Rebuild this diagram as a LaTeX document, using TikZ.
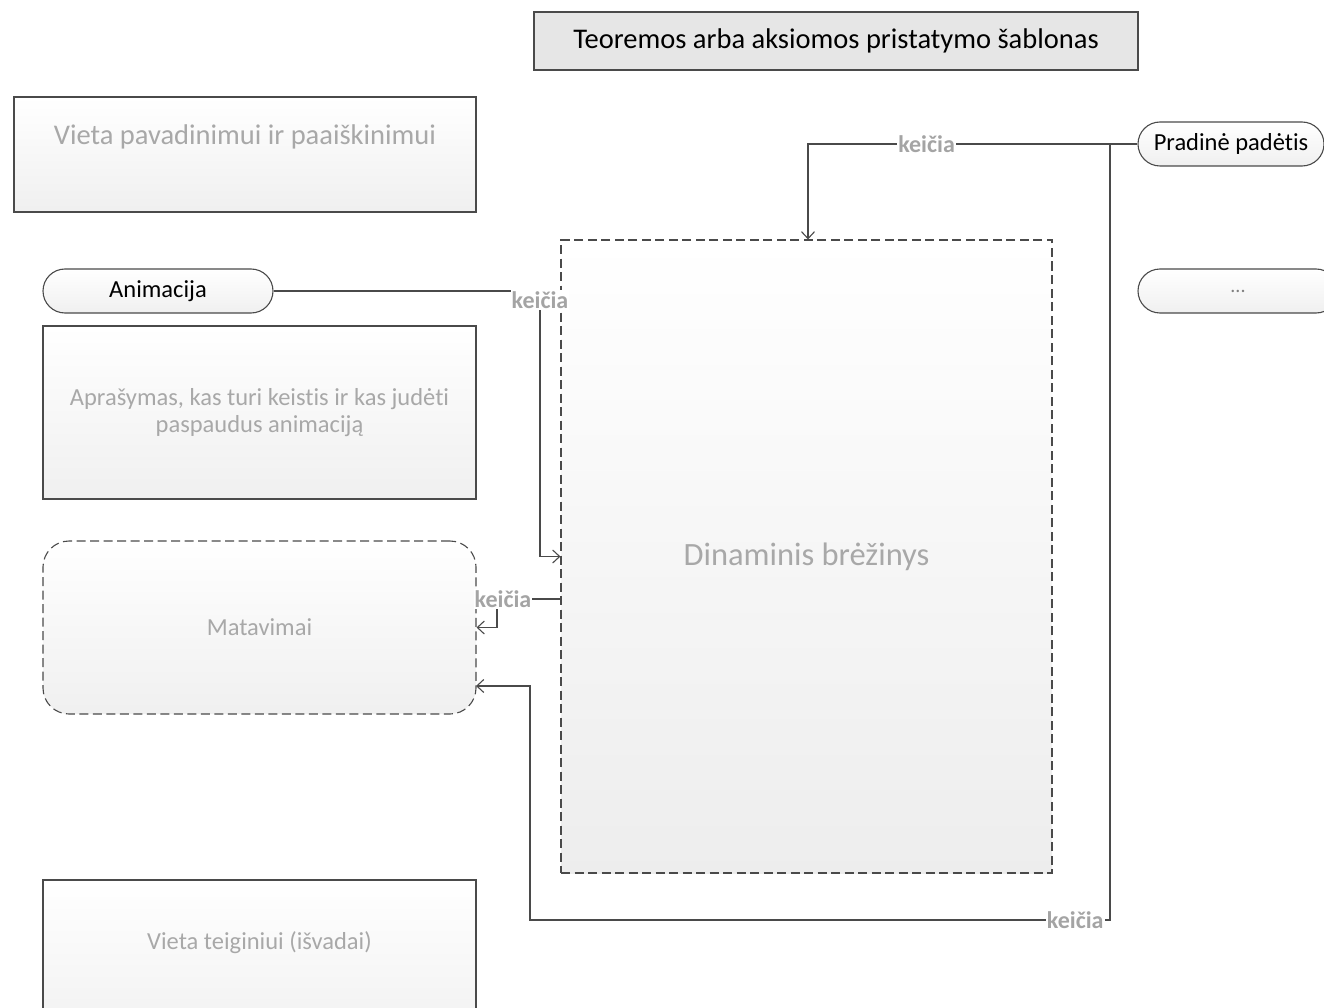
\documentclass[tikz,border=0pt]{standalone}
\usepackage{fontspec}
\setmainfont{Carlito}[Ligatures=NoCommon]
\usetikzlibrary{arrows.meta}
\definecolor{edge}{HTML}{4A4A4A}
\definecolor{ltext}{HTML}{A8A8A8}
\definecolor{ktext}{HTML}{A4A4A4}
\definecolor{titlefill}{HTML}{E6E6E6}
\tikzset{
  box/.style={draw=edge, line width=1.1pt, top color=white, bottom color=gray!12, text=ltext, inner sep=0pt},
  dbox/.style={box, dash pattern=on 9pt off 4.5pt},
  pill/.style={draw=edge, line width=1.1pt, top color=white, bottom color=gray!12, rounded corners=22pt, text=black, font=\fontsize{24.5}{28}\selectfont, inner sep=0pt},
  conn/.style={draw=edge, line width=1.1pt, -{Straight Barb[length=7pt,width=13pt,line width=1.1pt]}},
  lbl/.style={fill=white, text=ktext, font=\bfseries\fontsize{24}{27}\selectfont, inner sep=1pt},
}
\begin{document}
\begin{tikzpicture}[x=1pt,y=-1pt]
\useasboundingbox (0,0) rectangle (1324,1008);
\clip (0,0) rectangle (1324,1008);
% title
\node[draw=edge, line width=1.1pt, fill=titlefill, minimum width=604pt, minimum height=58pt, font=\fontsize{28.5}{32}\selectfont, inner sep=0pt] (title) at (836,41) {Teoremos arba aksiomos pristatymo šablonas};
% left boxes
\node[box, minimum width=462pt, minimum height=115pt,
  label={[anchor=center, yshift=-40pt, text=ltext, font=\fontsize{28.5}{32}\selectfont]north:Vieta pavadinimui ir paaiškinimui}] (name) at (245,154.5) {};
\node[pill, minimum width=230pt, minimum height=44pt] (anim) at (158,291) {Animacija};
\node[box, minimum width=433pt, minimum height=173pt, align=center, font=\fontsize{24.5}{27}\selectfont] (desc) at (259.5,412.5) {Aprašymas, kas turi keistis ir kas judėti\\paspaudus animaciją};
\node[dbox, rounded corners=26pt, minimum width=433pt, minimum height=173pt, font=\fontsize{24.5}{28}\selectfont] (mat) at (259.5,627.5) {Matavimai};
\node[box, minimum width=433pt, minimum height=173pt,
  label={[anchor=center, yshift=-63pt, text=ltext, font=\fontsize{24.5}{28}\selectfont]north:Vieta teiginiui (išvadai)}] (teig) at (259.5,966.5) {};
% dynamic drawing
\node[dbox, bottom color=gray!14, minimum width=491pt, minimum height=633pt, font=\fontsize{32.5}{36}\selectfont] (dyn) at (806.5,556.5) {Dinaminis brėžinys};
% right pills
\node[pill, minimum width=186pt, minimum height=44pt] (prad) at (1231,144) {Pradinė padėtis};
\node[pill, minimum width=200pt, minimum height=44pt, text=gray, font=\fontsize{20}{24}\selectfont] (more) at (1238,291) {...};
% coordinates
\coordinate (c1) at (808,0);
\coordinate (j1) at (1110,144);
\coordinate (b1) at (1110,920);
\coordinate (b2) at (530,920);
\coordinate (m2) at (476,686);
\coordinate (a1) at (540,0);
\coordinate (d1) at (561,599);
\coordinate (d2) at (497,599);
% connectors
\draw[conn] (prad.west) -| (c1 |- dyn.north) node[pos=0.32, lbl] {keičia};
\draw[conn] (j1) -- (b1) -- node[pos=0.06, lbl] {keičia} (b2) |- (m2);
\draw[conn] (anim.east) -| (a1 |- dyn.west) node[pos=0.5, lbl, yshift=-9pt] {keičia} -- (dyn.west);
\draw[conn] (d1) -- (d2) |- (mat.east);
\node[lbl] at (503,599) {keičia};
\end{tikzpicture}
\end{document}
